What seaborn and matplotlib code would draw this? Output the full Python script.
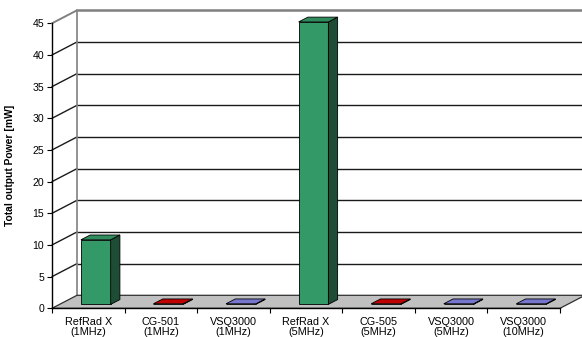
import numpy as np
import pandas as pd
import matplotlib
matplotlib.use("Agg")
import matplotlib.pyplot as plt
import seaborn as sns
from matplotlib.patches import Polygon, Rectangle

# ---- data ----
categories = ["RefRad X\n(1MHz)", "CG-501\n(1MHz)", "VSQ3000\n(1MHz)",
              "RefRad X\n(5MHz)", "CG-505\n(5MHz)", "VSQ3000\n(5MHz)",
              "VSQ3000\n(10MHz)"]
power_mw = [10.2, 0.1, 0.1, 44.6, 0.1, 0.1, 0.1]
y_ticks = [0, 5, 10, 15, 20, 25, 30, 35, 40, 45]
y_label = "Total output Power [mW]"
front_colors = ["#339966", "#cc0000", "#7474cc", "#339966", "#cc0000", "#7474cc", "#7474cc"]
top_colors = ["#2f8c5d", "#c00000", "#7676cf", "#2f8c5d", "#c00000", "#7676cf", "#7676cf"]
side_colors = ["#1e4d35", "#660000", "#3a3a80", "#1e4d35", "#660000", "#3a3a80", "#3a3a80"]

sns.set_theme(style="white")
plt.rcParams["font.family"] = ["Liberation Sans", "DejaVu Sans"]

W, H = 582, 337
fig = plt.figure(figsize=(W / 100, H / 100), dpi=100, facecolor="white")
ax = fig.add_axes([52 / W, (H - 308.3) / H, 508 / W, 285 / H])

df = pd.DataFrame({"device": categories, "power": power_mw})
sns.barplot(data=df, x="device", y="power", hue="device", palette=front_colors,
            saturation=1, width=0.41, legend=False, ax=ax,
            edgecolor="black", linewidth=0.6)
bar_patches = sorted([p for p in ax.patches if isinstance(p, Rectangle)], key=lambda r: r.get_x())

ax.set_xlim(-0.5, len(categories) - 0.5)
ax.set_ylim(y_ticks[0], y_ticks[-1])
ax.patch.set_visible(False)

# depth vector in data units (from pixel offsets through the axes scales)
p0 = ax.transData.transform((0, 0))
p1 = ax.transData.transform((1, 1))
DX = 25 / (p1[0] - p0[0])
DY = 13 / (p1[1] - p0[1])
xl, xr = ax.get_xlim()
ymax = y_ticks[-1]

# back wall
ax.add_patch(Polygon([(xl + DX, DY), (xr + DX, DY), (xr + DX, ymax + DY), (xl + DX, ymax + DY)],
                     closed=True, facecolor="white", edgecolor="none", zorder=0.5, clip_on=False))
for v in y_ticks[1:]:
    c = "#808080" if v == ymax else "#1a1a1a"
    lw = 1.8 if v == ymax else 1.0
    ax.plot([xl + DX, xr + DX + 0.2], [v + DY, v + DY], color=c, lw=lw, zorder=1, clip_on=False,
            solid_capstyle="butt")
    ax.plot([xl, xl + DX], [v, v + DY], color=c, lw=1.0 if v != ymax else 1.4, zorder=1, clip_on=False)
ax.plot([xl + DX, xl + DX], [DY, ymax + DY], color="#808080", lw=1.2, zorder=1, clip_on=False)

# floor
ax.add_patch(Polygon([(xl, 0), (xr, 0), (xr + DX, DY), (xl + DX, DY)], closed=True,
                     facecolor="#c0c0c0", edgecolor="#303030", lw=0.9, zorder=1.5, clip_on=False))

# 3D bars
off = 0.30
bd = 0.37
for i, rect in enumerate(bar_patches):
    x0 = rect.get_x() + off * DX
    w = rect.get_width()
    h = rect.get_height()
    y0 = off * DY
    rect.set_x(x0)
    rect.set_y(y0)
    rect.set_zorder(3)
    rect.set_clip_on(False)
    x1 = x0 + w
    top = y0 + h
    ax.add_patch(Polygon([(x1, y0), (x1 + bd * DX, y0 + bd * DY), (x1 + bd * DX, top + bd * DY), (x1, top)],
                         closed=True, facecolor=side_colors[i], edgecolor="black", lw=0.6, zorder=3,
                         clip_on=False))
    ax.add_patch(Polygon([(x0, top), (x1, top), (x1 + bd * DX, top + bd * DY), (x0 + bd * DX, top + bd * DY)],
                         closed=True, facecolor=top_colors[i], edgecolor="black", lw=0.6, zorder=3,
                         clip_on=False))

# axes styling
for s in ["top", "right"]:
    ax.spines[s].set_visible(False)
for s in ["left", "bottom"]:
    ax.spines[s].set_color("black")
    ax.spines[s].set_linewidth(1.0)
    ax.spines[s].set_zorder(2.5)

ax.set_yticks(y_ticks)
ax.set_yticklabels([str(v) for v in y_ticks])
ax.set_xticks(range(len(categories)))
ax.set_xticklabels(categories)
ax.set_xticks(np.arange(-0.5, len(categories)), minor=True)
ax.tick_params(axis="y", left=True, length=3.6, width=0.8, pad=2, labelsize=7.6,
               direction="out", color="black", labelcolor="black")
ax.tick_params(axis="x", which="major", bottom=True, length=0, pad=6.0, labelsize=7.8,
               labelcolor="black")
ax.tick_params(axis="x", which="minor", bottom=True, length=3.6, width=0.8, direction="out",
               color="black")
for lab in ax.get_xticklabels():
    lab.set_linespacing(1.0)

ax.set_xlabel("")
ax.set_ylabel(y_label, fontsize=7.4, fontweight="bold", color="black")
ax.yaxis.set_label_coords(-0.072, 0.5)

fig.savefig("out.png", dpi=100, facecolor="white")
